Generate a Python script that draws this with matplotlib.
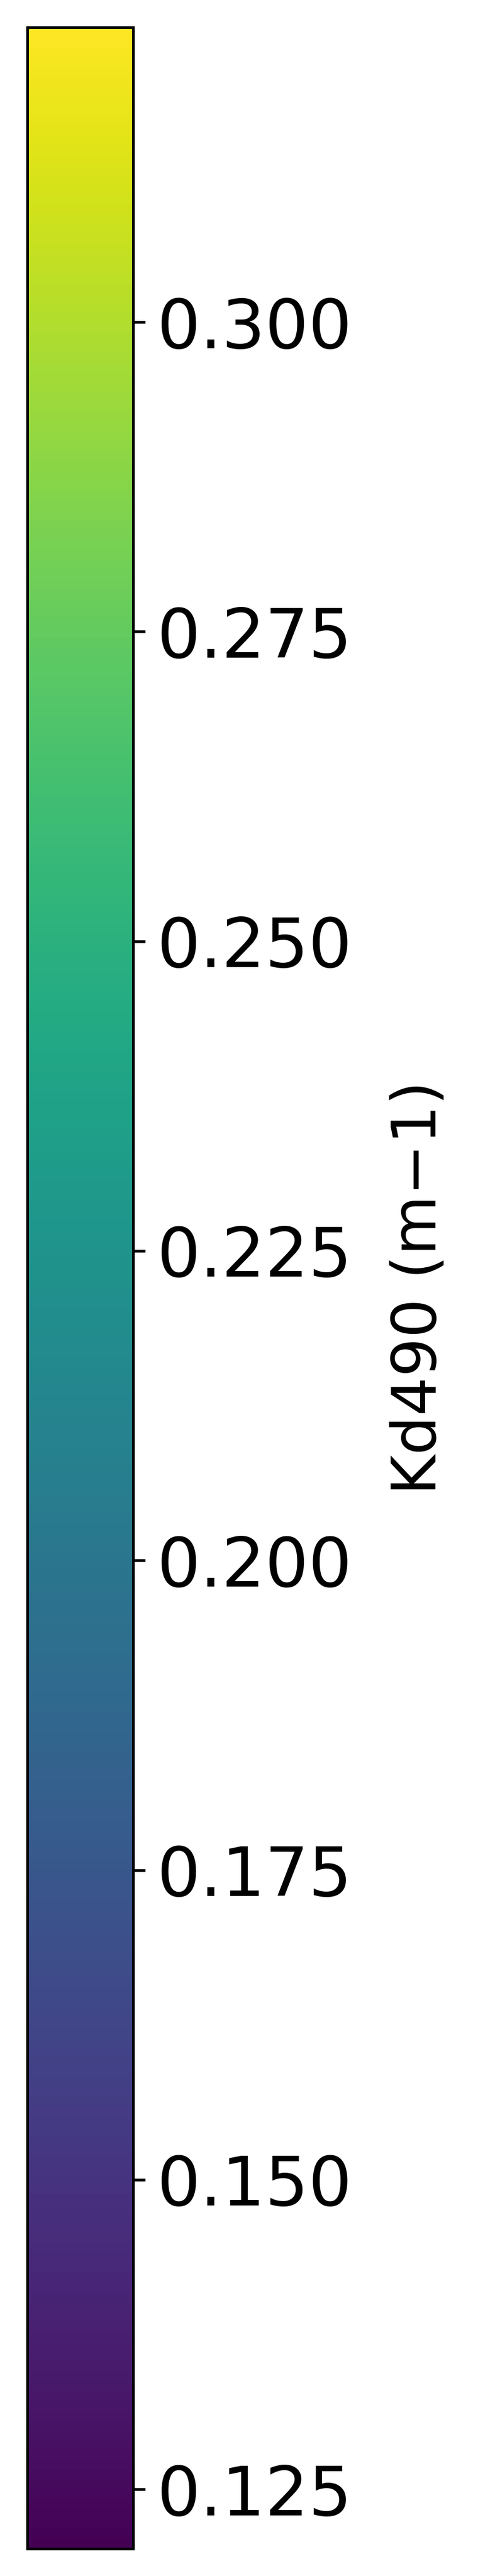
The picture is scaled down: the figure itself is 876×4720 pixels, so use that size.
import matplotlib
matplotlib.use("Agg")
import matplotlib.pyplot as plt
import matplotlib as mpl

# colour range of the Kd490 field
vmin = 0.1202
vmax = 0.3238
tick_values = [0.125, 0.150, 0.175, 0.200, 0.225, 0.250, 0.275, 0.300]
label = "Kd490 (m\u22121)"

fig = plt.figure(figsize=(876 / 450, 4720 / 450), dpi=450)
cax = fig.add_axes([49.5 / 876, 50 / 4720, (244 - 49.5) / 876, (4670 - 50) / 4720])

norm = mpl.colors.Normalize(vmin=vmin, vmax=vmax)
sm = mpl.cm.ScalarMappable(norm=norm, cmap="viridis")
cb = fig.colorbar(sm, cax=cax, orientation="vertical")
cb.set_ticks(tick_values)
cb.ax.tick_params(labelsize=20)
cb.set_label(label, fontsize=18, labelpad=11)

fig.savefig("out.png", dpi=450)
